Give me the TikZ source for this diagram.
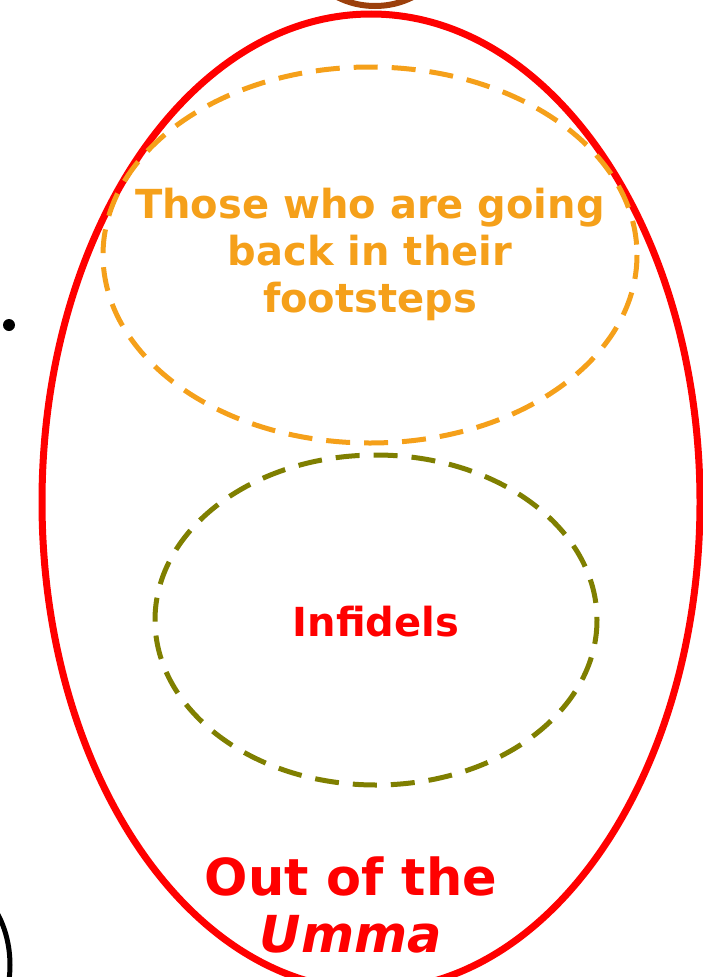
\documentclass[tikz,border=0pt]{standalone}
\usepackage{fontspec}
\setmainfont{DejaVu Sans}
\usepackage{tikz}

\definecolor{footorange}{HTML}{F5A01A}
\definecolor{infolive}{HTML}{7F7F00}
\definecolor{topbrown}{HTML}{9C400C}

\begin{document}
\begin{tikzpicture}[x=1pt,y=-1pt,
	ringdash/.style={line width=5pt, dash pattern=on 24pt off 14pt},
	label/.style={font=\fontsize{40}{47}\selectfont\bfseries, align=center}]
	
	\useasboundingbox (0,0) rectangle (703,977);
	
	% pieces of the neighbouring circles
	\draw[topbrown, line width=6pt] (375,-60) ellipse (75 and 66);
	\draw[line width=5pt] (-60,965) ellipse (70 and 90);
	\fill (9,325) circle (6);
	
	% the Umma ring
	\draw[red, line width=7pt] (371,502) ellipse (329 and 488);
	
	\draw[footorange, ringdash] (370,255) ellipse (267 and 188);
	\draw[infolive, ringdash] (376,620) ellipse (221 and 165);
	
	\node[label, text=footorange] (steps) at (370,254) {Those who are going\\back in their\\footsteps};
	\node[label, text=red] (infidels) at (376,622) {Infidels};
	\node[label, text=red, font=\fontsize{51}{57}\selectfont\bfseries] (out) at (351,905) {Out of the\\\itshape Umma};

\end{tikzpicture}
\end{document}
